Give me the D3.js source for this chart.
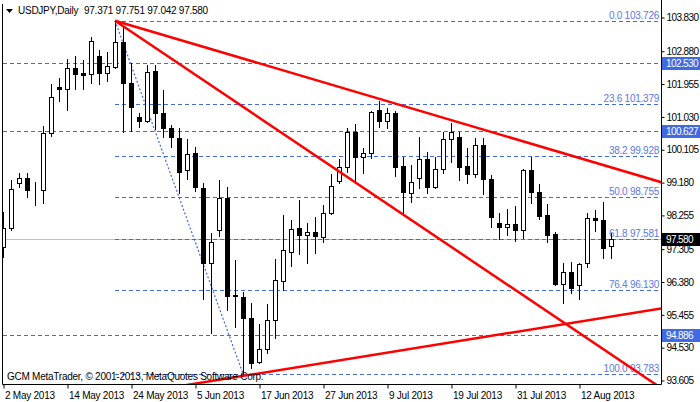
<!DOCTYPE html>
<html><head><meta charset="utf-8">
<script src="https://cdn.jsdelivr.net/npm/d3@7"></script>
<style>
html,body{margin:0;padding:0;background:#fff;}
svg text{font-family:"Liberation Sans",Arial,sans-serif;font-size:10px;letter-spacing:-0.25px;}
svg text.ax{letter-spacing:-0.6px;}
</style></head>
<body><svg id="c" width="700" height="402"></svg>
<script>
const dates = ["2 May 2013","3 May 2013","6 May 2013","7 May 2013","8 May 2013","9 May 2013","10 May 2013","13 May 2013","14 May 2013","15 May 2013","16 May 2013","17 May 2013","20 May 2013","21 May 2013","22 May 2013","23 May 2013","24 May 2013","27 May 2013","28 May 2013","29 May 2013","30 May 2013","31 May 2013","3 Jun 2013","4 Jun 2013","5 Jun 2013","6 Jun 2013","7 Jun 2013","10 Jun 2013","11 Jun 2013","12 Jun 2013","13 Jun 2013","14 Jun 2013","17 Jun 2013","18 Jun 2013","19 Jun 2013","20 Jun 2013","21 Jun 2013","24 Jun 2013","25 Jun 2013","26 Jun 2013","27 Jun 2013","28 Jun 2013","1 Jul 2013","2 Jul 2013","3 Jul 2013","4 Jul 2013","5 Jul 2013","8 Jul 2013","9 Jul 2013","10 Jul 2013","11 Jul 2013","12 Jul 2013","15 Jul 2013","16 Jul 2013","17 Jul 2013","18 Jul 2013","19 Jul 2013","22 Jul 2013","23 Jul 2013","24 Jul 2013","25 Jul 2013","26 Jul 2013","29 Jul 2013","30 Jul 2013","31 Jul 2013","1 Aug 2013","2 Aug 2013","5 Aug 2013","6 Aug 2013","7 Aug 2013","8 Aug 2013","9 Aug 2013","12 Aug 2013","13 Aug 2013","14 Aug 2013","15 Aug 2013","16 Aug 2013"];
const opens  = [97.36,97.89,99.15,99.30,98.96,98.96,100.56,101.86,101.80,102.39,102.24,102.22,102.73,102.25,102.42,103.13,101.97,101.01,100.90,102.31,101.13,100.70,100.42,99.52,99.99,99.01,96.90,97.83,98.73,95.97,95.95,95.34,94.12,94.47,95.29,96.40,97.20,97.89,97.68,97.76,97.64,98.30,99.21,99.61,100.58,99.89,99.99,101.21,100.91,101.12,99.63,98.86,99.30,99.82,99.05,99.54,100.39,100.44,99.63,99.40,100.22,99.26,98.02,97.91,98.00,97.83,99.52,98.89,98.25,97.72,96.30,96.66,96.28,96.89,98.16,98.11,97.371];
const highs  = [98.35,99.24,99.44,99.44,99.18,100.76,101.94,102.11,102.65,102.73,102.62,103.27,102.90,102.84,103.726,103.55,102.53,101.13,102.48,102.48,101.77,100.79,100.70,100.39,100.17,99.15,97.75,99.24,99.04,96.99,96.09,95.77,95.17,95.75,97.01,98.25,98.11,98.68,98.02,98.19,98.53,99.41,99.83,100.71,100.82,100.13,101.18,101.47,101.26,101.19,99.89,99.66,100.44,100.02,99.89,100.58,100.84,100.60,100.13,100.41,100.41,99.38,98.30,98.42,98.51,99.55,99.89,99.13,98.56,97.76,96.91,96.92,96.89,98.30,98.39,98.63,97.751];
const lows   = [97.07,97.83,99.04,98.76,98.53,98.59,100.48,101.46,101.21,101.80,101.80,101.97,101.94,102.03,102.38,100.59,100.62,100.73,100.87,100.67,100.45,100.17,98.87,99.27,98.93,95.89,94.93,97.66,95.58,95.10,93.783,93.94,94.07,94.37,94.78,96.14,96.82,97.15,96.91,97.19,97.50,98.28,99.15,99.47,99.22,99.44,99.85,100.74,100.69,99.35,98.28,98.63,99.02,98.86,99.00,99.43,99.75,99.24,99.16,99.33,98.84,97.92,97.58,97.69,97.53,97.60,98.60,98.14,97.48,96.27,95.76,96.06,95.88,96.80,97.81,97.03,97.042];
const closes = [97.90,98.98,99.30,98.96,98.97,100.56,101.58,101.80,102.39,102.22,102.20,103.15,102.25,102.45,103.13,101.97,101.30,100.90,102.28,101.13,100.70,100.45,99.46,99.97,99.04,96.90,97.49,98.73,95.97,96.00,95.34,94.07,94.47,95.29,96.42,97.27,97.85,97.68,97.76,97.67,98.30,99.08,99.61,100.58,99.89,99.99,101.15,100.91,101.12,99.61,98.91,99.17,99.82,99.05,99.54,100.39,100.60,99.61,99.40,100.22,99.26,98.20,97.91,98.00,97.83,99.52,98.91,98.22,97.69,96.30,96.66,96.19,96.86,98.16,98.11,97.33,97.580];
const priceTicks = [103.830,102.880,101.955,101.030,100.105,99.180,98.255,97.305,96.380,95.455,94.530,93.605];
const dateTicks = ["2 May 2013","14 May 2013","24 May 2013","5 Jun 2013","17 Jun 2013","27 Jun 2013","9 Jul 2013","19 Jul 2013","31 Jul 2013","12 Aug 2013"];
const fibRatios = ["0.0","23.6","38.2","50.0","61.8","76.4","100.0"];
const fibLevels = [103.726,101.379,99.928,98.755,97.581,96.130,93.783];
const fibStartBar = 14, fibEndBar = 30;
const hLevels = [102.530,100.627,94.886];
const bidPrice = 97.580;
const trendLines = [
  {p:[[14,103.726],[82.25,99.18]], left:false},
  {p:[[14,103.726],[82.25,93.38]], left:false},
  {p:[[30,93.72],[82.25,95.62]], left:true}
];
const titleSym = "USDJPY,Daily";
const titleVals = "97.371 97.751 97.042 97.580";
const copyright = "GCM MetaTrader, © 2001-2013, MetaQuotes Software Corp.";

const svg = d3.select("#c");
const L = 3, R = 661, B = 384;
const x = d3.scaleLinear().domain([0, 76]).range([3, 611]);
const y = d3.scaleLinear().domain([93.605, 103.830]).range([380, 17]);
const blue = "#4169E1";

svg.append("defs").append("clipPath").attr("id","clip")
  .append("rect").attr("x",L).attr("y",0).attr("width",R-L).attr("height",B);
const plot = svg.append("g").attr("clip-path","url(#clip)");
const cy = v => Math.round(y(v)) + 0.5;

// horizontal lines
plot.selectAll(".hl").data(hLevels).join("line")
  .attr("x1",L).attr("x2",R).attr("y1",d=>cy(d)).attr("y2",d=>cy(d))
  .attr("stroke",blue).attr("stroke-dasharray","4,3");
// bid line
plot.append("line").attr("x1",L).attr("x2",R).attr("y1",cy(bidPrice)).attr("y2",cy(bidPrice))
  .attr("stroke","#c0c0c0");
// fib levels
const fx0 = Math.round(x(fibStartBar));
plot.selectAll(".fl").data(fibLevels).join("line")
  .attr("x1",fx0).attr("x2",R).attr("y1",d=>cy(d)).attr("y2",d=>cy(d))
  .attr("stroke",blue).attr("stroke-dasharray","4,3");
plot.selectAll(".ft").data(fibLevels).join("text")
  .attr("x",R-2).attr("y",d=>cy(d)-3).attr("text-anchor","end").attr("fill","#5a78e6")
  .text((d,i)=>fibRatios[i]+" "+d.toFixed(3));
// fib trend (dotted)
plot.append("line").attr("x1",x(fibStartBar)).attr("y1",y(fibLevels[0]))
  .attr("x2",x(fibEndBar)).attr("y2",y(fibLevels[6]))
  .attr("stroke",blue).attr("stroke-width",1.2).attr("stroke-dasharray","2,2");

// candles
const idx = d3.range(dates.length);
const cg = plot.append("g");
cg.selectAll(".w").data(idx).join("line")
  .attr("x1",i=>Math.round(x(i))+0.5).attr("x2",i=>Math.round(x(i))+0.5)
  .attr("y1",i=>Math.round(y(highs[i]))).attr("y2",i=>Math.round(y(lows[i]))+1)
  .attr("stroke","#000");
cg.selectAll(".b").data(idx).join("rect")
  .attr("x",i=>Math.round(x(i))-1.5).attr("width",4)
  .attr("y",i=>cy(Math.max(opens[i],closes[i])))
  .attr("height",i=>Math.max(0, cy(Math.min(opens[i],closes[i])) - cy(Math.max(opens[i],closes[i]))))
  .attr("fill",i=>closes[i]>=opens[i]?"#fff":"#000").attr("stroke","#000");

// red trend lines
trendLines.forEach(t=>{
  const [[a0,p0],[a1,p1]] = t.p;
  const s = (p1-p0)/(a1-a0);
  const xa = t.left ? -5 : a0;
  const xb = 85;
  plot.append("line")
    .attr("x1",x(xa)).attr("y1",y(p0+s*(xa-a0)))
    .attr("x2",x(xb)).attr("y2",y(p0+s*(xb-a0)))
    .attr("stroke","#ff0000").attr("stroke-width",2.5);
});

// frame
svg.append("path").attr("d",`M${L-0.5},4V${B+0.5}H${R+0.5}V0`).attr("fill","none").attr("stroke","#000");

// right axis
const ya = d3.axisRight(y).tickValues(priceTicks).tickSize(3).tickPadding(2).tickFormat(d3.format(".3f"));
const gy = svg.append("g").attr("transform",`translate(${R+0.5},0.5)`).call(ya);
gy.select(".domain").remove();
gy.selectAll("text").attr("class","ax").attr("fill","#000").style("font-size","10px").attr("font-family",null);
gy.selectAll("line").attr("stroke","#000");

// bottom axis
const tickIdx = dateTicks.map(d=>dates.indexOf(d));
const xa = d3.axisBottom(x).tickValues(tickIdx).tickSize(4).tickPadding(3).tickFormat(i=>dates[i]);
const gx = svg.append("g").attr("transform",`translate(0.5,${B+0.5})`).call(xa);
gx.select(".domain").remove();
gx.selectAll("text").attr("text-anchor","start").attr("fill","#000").attr("dx",1).style("font-size","10px").attr("font-family",null);
gx.selectAll("line").attr("stroke","#000");

// axis boxes
const boxes = hLevels.map(v=>({v, c:blue})).concat([{v:bidPrice, c:"#000"}]);
const bg = svg.append("g");
boxes.forEach(b=>{
  const yy = Math.round(y(b.v));
  bg.append("rect").attr("x",R+1).attr("y",yy-6).attr("width",700-R-1).attr("height",13).attr("fill",b.c);
  bg.append("text").attr("class","ax").attr("x",R+5).attr("y",yy+4).attr("fill","#fff").text(b.v.toFixed(3));
});

// title
svg.append("path").attr("d","M6,9L13,9L9.5,13Z").attr("fill","#000");
svg.append("text").attr("x",18).attr("y",14).attr("fill","#000").text(titleSym);
svg.append("text").attr("x",84).attr("y",14).attr("fill","#000").text(titleVals);
// copyright
svg.append("text").attr("x",7).attr("y",380).attr("fill","#000").text(copyright);
</script></body></html>
